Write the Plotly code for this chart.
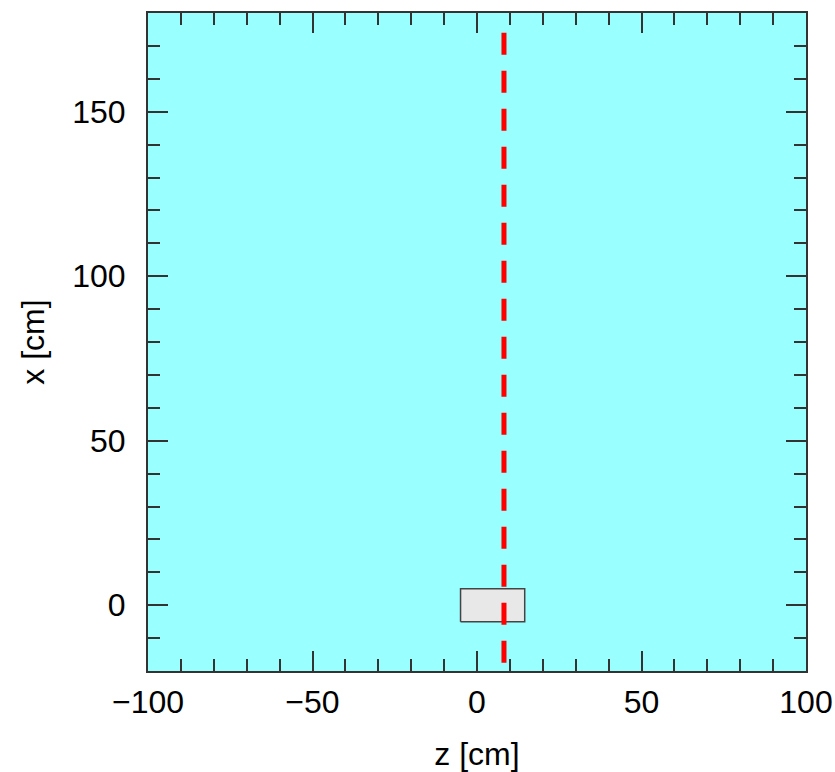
import plotly.graph_objects as go

# Detector block footprint (z, x extents in cm)
block_z = [-5.0, 14.5]
block_x = [-5.0, 5.0]

# Beam axis position and its drawn extent along x (cm)
beam_z = 8.2
beam_x = [174.0, -18.0]

# Axis ranges and major tick labels
z_range = [-100, 100]
x_range = [-20, 180]
z_ticks = [-100, -50, 0, 50, 100]
x_ticks = [0, 50, 100, 150]

fig = go.Figure()

fig.add_trace(go.Scatter(
    x=[block_z[0], block_z[1], block_z[1], block_z[0], block_z[0]],
    y=[block_x[0], block_x[0], block_x[1], block_x[1], block_x[0]],
    mode="lines", fill="toself", fillcolor="#e8e8e8",
    line=dict(color="#444444", width=1.5), hoverinfo="skip", showlegend=False,
))

fig.add_trace(go.Scatter(
    x=[beam_z, beam_z], y=beam_x, mode="lines",
    line=dict(color="#ff0000", width=5, dash="22px,16px"),
    hoverinfo="skip", showlegend=False,
))

font = dict(family="Liberation Sans, Arial, sans-serif", size=32, color="#000000")

axis_common = dict(
    showline=True, linecolor="#333333", linewidth=2, mirror="ticks",
    ticks="inside", ticklen=20, tickwidth=1.5, tickcolor="#333333",
    minor=dict(ticks="inside", ticklen=12, tickwidth=1.5, tickcolor="#333333", dtick=10),
    showgrid=False, zeroline=False, tickfont=font, automargin=False,
)

fig.update_layout(
    width=835, height=772,
    margin=dict(l=148, r=29, t=13, b=101),
    paper_bgcolor="#ffffff", plot_bgcolor="#99ffff",
    xaxis=dict(range=z_range, tickvals=z_ticks, ticklabelstandoff=2,
               title=dict(text="z [cm]", font=font, standoff=24), **axis_common),
    yaxis=dict(range=x_range, tickvals=x_ticks, ticklabelstandoff=14,
               title=dict(text="x [cm]", font=font, standoff=18), **axis_common),
)

fig.write_html("out.html")
